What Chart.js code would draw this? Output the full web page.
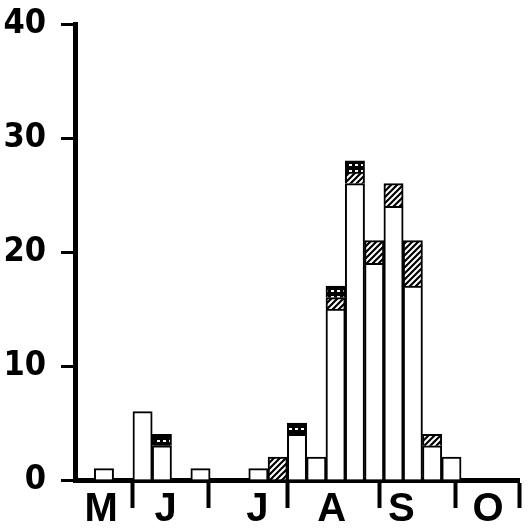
<!DOCTYPE html>
<html>
<head>
<meta charset="utf-8">
<script src="https://cdn.jsdelivr.net/npm/chart.js@4.4.0/dist/chart.umd.min.js"></script>
<style>
  html, body { margin: 0; padding: 0; background: #fff; }
</style>
</head>
<body>
<canvas id="myChart" width="530" height="530"></canvas>
<script>
// one bar slot per collecting period, May -> October
const periods = ['1','2','3','4','5','6','7','8','9','10','11','12','13','14','15','16','17','18','19','20','21','22','23'];
const plainCounts   = [null, 1, null, 6, 3, null, 1, null, null, 1, null, 4, 2, 15, 26, 19, 24, 17, 3, 2, null, null, null];
const hatchedCounts = [null, null, null, null, null, null, null, null, null, null, 2, null, null, 1, 1, 2, 2, 4, 1, null, null, null, null];
const dottedCounts  = [null, null, null, null, 1, null, null, null, null, null, null, 1, null, 1, 1, null, null, null, null, null, null, null, null];

const yTicks = [0, 10, 20, 30, 40];
const monthLabels = ['M', 'J', 'J', 'A', 'S', 'O'];
// month label centres and month boundaries, in slot units
const monthCenters = [0.85, 4.2, 8.95, 12.8, 16.4, 20.9];
const monthBounds = [2.5, 6.4, 10.5, 15.25, 19.2, 22.5];

function makeHatch() {
  const c = document.createElement('canvas');
  c.width = 6; c.height = 6;
  const g = c.getContext('2d');
  g.fillStyle = '#fff';
  g.fillRect(0, 0, 6, 6);
  g.strokeStyle = '#000';
  g.lineWidth = 2.2;
  g.beginPath();
  g.moveTo(-1, 7); g.lineTo(7, -1);
  g.moveTo(-4, 4); g.lineTo(4, -4);
  g.moveTo(2, 10); g.lineTo(10, 2);
  g.stroke();
  return g.createPattern(c, 'repeat');
}

function makeDots() {
  const c = document.createElement('canvas');
  c.width = 6; c.height = 6;
  const g = c.getContext('2d');
  g.fillStyle = '#000';
  g.fillRect(0, 0, 6, 6);
  g.fillStyle = '#fff';
  g.fillRect(1, 2, 3, 2);
  return g.createPattern(c, 'repeat');
}

const numFont = { family: "'Liberation Sans Narrow', 'DejaVu Sans Condensed', sans-serif", size: 34, weight: 'bold', lineHeight: 1 };
const letterFont = { family: "'Liberation Sans', Arial, sans-serif", size: 40, weight: 'bold', lineHeight: 1 };

const ctx = document.getElementById('myChart').getContext('2d');

const myChart = new Chart(ctx, {
  type: 'bar',
  data: {
    labels: periods,
    datasets: [
      { label: 'plain', data: plainCounts, backgroundColor: '#fff' },
      { label: 'hatched', data: hatchedCounts, backgroundColor: makeHatch() },
      { label: 'dotted', data: dottedCounts, backgroundColor: makeDots() }
    ]
  },
  options: {
    responsive: false,
    animation: false,
    devicePixelRatio: 1,
    datasets: {
      bar: {
        borderColor: '#000',
        borderWidth: 2,
        categoryPercentage: 1,
        barPercentage: 1
      }
    },
    layout: { padding: { top: 24, right: 11, left: 0, bottom: 0 } },
    plugins: {
      legend: { display: false },
      tooltip: { enabled: false }
    },
    scales: {
      x: {
        type: 'category',
        display: false,
        stacked: true
      },
      months: {
        type: 'linear',
        axis: 'x',
        position: 'bottom',
        offset: false,
        min: -0.5,
        max: 22.5,
        afterBuildTicks: s => {
          s.ticks = monthCenters.concat(monthBounds).sort((a, b) => a - b).map(v => ({ value: v }));
        },
        afterFit: s => { s.height = 50; s.paddingLeft = 0; s.paddingRight = 0; },
        border: { display: true, color: '#000', width: 5 },
        grid: {
          offset: false,
          drawOnChartArea: false,
          tickLength: 28,
          tickWidth: 4,
          tickColor: c => (c.tick && monthBounds.includes(c.tick.value)) ? '#000' : 'rgba(0,0,0,0)'
        },
        ticks: {
          autoSkip: false,
          maxRotation: 0,
          padding: -18,
          color: '#000',
          font: letterFont,
          callback: v => {
            const i = monthCenters.indexOf(v);
            return i >= 0 ? monthLabels[i] : '';
          }
        }
      },
      y: {
        stacked: true,
        min: 0,
        max: 40,
        afterBuildTicks: s => { s.ticks = yTicks.map(v => ({ value: v })); },
        afterFit: s => { s.width = 75; s.paddingTop = 0; s.paddingBottom = 0; },
        border: { display: true, color: '#000', width: 5 },
        grid: {
          drawOnChartArea: false,
          tickLength: 14,
          tickWidth: 3,
          tickColor: '#000'
        },
        ticks: {
          padding: 15,
          color: '#000',
          font: numFont
        }
      }
    }
  }
});
</script>
</body>
</html>
